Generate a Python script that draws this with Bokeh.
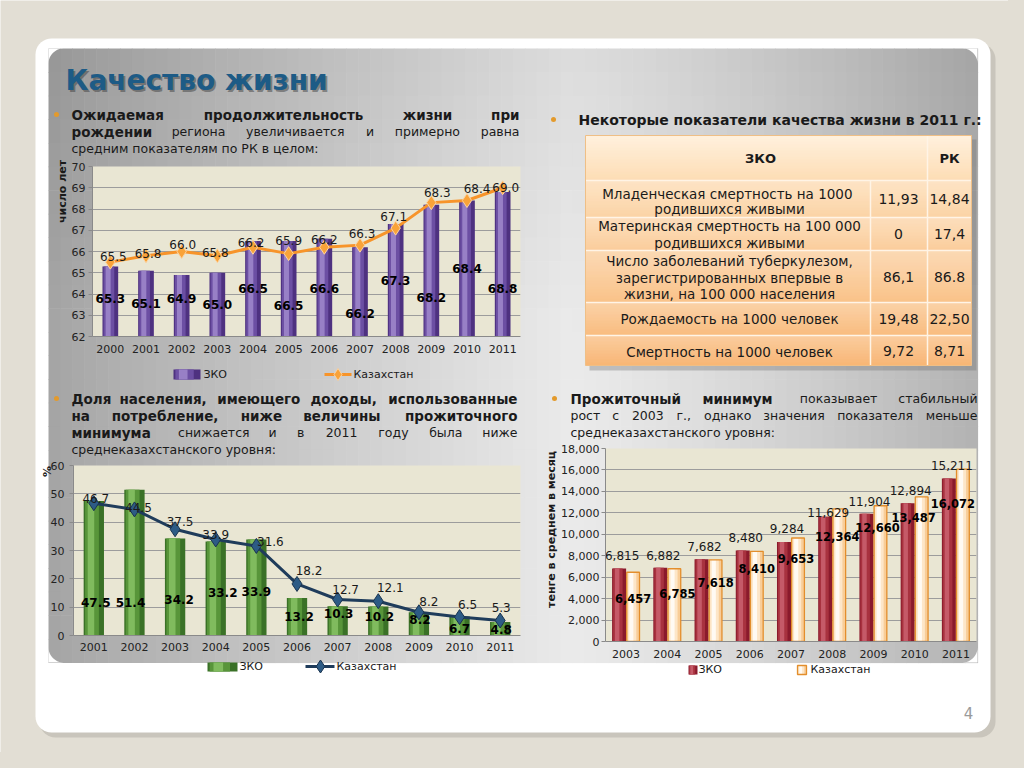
import numpy as np
from bokeh.plotting import figure
from bokeh.layouts import column
from bokeh.models import ColumnDataSource, FactorRange, Range1d, FixedTicker, NumeralTickFormatter
from bokeh.transform import dodge
from bokeh.core.properties import value
from bokeh.embed import file_html
from bokeh.resources import INLINE

# ---------------- data ----------------
life_years = ["2000", "2001", "2002", "2003", "2004", "2005", "2006", "2007", "2008", "2009", "2010", "2011"]
life_zko = [65.3, 65.1, 64.9, 65.0, 66.5, 66.5, 66.6, 66.2, 67.3, 68.2, 68.4, 68.8]
life_kz = [65.5, 65.8, 66.0, 65.8, 66.2, 65.9, 66.2, 66.3, 67.1, 68.3, 68.4, 69.0]
life_ticks = [62, 63, 64, 65, 66, 67, 68, 69, 70]

poor_years = ["2001", "2002", "2003", "2004", "2005", "2006", "2007", "2008", "2009", "2010", "2011"]
poor_zko = [47.5, 51.4, 34.2, 33.2, 33.9, 13.2, 10.3, 10.2, 8.2, 6.7, 4.8]
poor_kz = [46.7, 44.5, 37.5, 33.9, 31.6, 18.2, 12.7, 12.1, 8.2, 6.5, 5.3]
poor_ticks = [0, 10, 20, 30, 40, 50, 60]

min_years = ["2003", "2004", "2005", "2006", "2007", "2008", "2009", "2010", "2011"]
min_zko = [6815, 6882, 7682, 8480, 9284, 11629, 11904, 12894, 15211]
min_kz = [6457, 6785, 7618, 8410, 9653, 12364, 12660, 13487, 16072]
min_ticks = [0, 2000, 4000, 6000, 8000, 10000, 12000, 14000, 16000, 18000]

series_names = ["ЗКО", "Казахстан"]
table_header = ["ЗКО", "РК"]
table_rows = [
    ["Младенческая  смертность на 1000", "родившихся живыми"],
    ["Материнская смертность на 100 000", "родившихся живыми"],
    ["Число заболеваний туберкулезом,", "зарегистрированных впервые в", "жизни, на 100 000 населения"],
    ["Рождаемость на 1000 человек"],
    ["Смертность на 1000 человек"],
]
table_zko = ["11,93", "0", "86,1", "19,48", "9,72"]
table_rk = ["14,84", "17,4", "86.8", "22,50", "8,71"]

# ---------------- layout / style ----------------
FONT = "DejaVu Sans"
W, H = 1008, 752
TXT = "#1a1a1a"
BOLD_PX = 13.5
NORM_PX = 12.5

# label placement tweaks (styling only)
LIFE_ZKO_LY = [63.79, 63.55, 63.79, 63.51, 64.26, 63.46, 64.26, 63.08, 64.64, 63.84, 65.2, 64.26]
LIFE_KZ_UP = [6, 2.5, 7, 3.5, 4.5, 13, 8, 12, 12, 10, 12, 0]
LIFE_KZ_DX = [3, 2, 1, -2, -2, 0, 0, 2, -2, 6, 10, 3]
POOR_ZKO_LY = [11.75, 11.75, 12.7, 15.3, 15.5, 6.8, 7.8, 6.8, 5.6, 2.4, 2.1]
POOR_ZKO_DX = [2, -4, 4, 7, 0, 2, 1, 1, 1, 0, 1]
POOR_KZ_UP = [5, 2, 8, 5, 4.5, 13, 10, 14, 11, 13, 13]
POOR_KZ_DX = [2, 4, 5, 0, 14, 12, 8, 12, 10, 8, 1]
MIN_ZKO_UP = [13, 12, 12.6, 13, 13.5, 4.3, 12.4, 12.7, 13]
MIN_KZ_LY = [3982, 4505, 5531, 6780, 7713, 9821, 10660, 11537, 12898]
MIN_KZ_DX = [0, 3, 0, 0, -2, -2, -3, -8, -10]


def place(x, y):
    return {"position": "absolute", "left": f"{x}px", "top": f"{y}px"}


def rrect(x0, y0, x1, y1, r, n=10):
    xs, ys = [], []
    for cx, cy, a0 in [(x1 - r, y0 + r, -90), (x1 - r, y1 - r, 0), (x0 + r, y1 - r, 90), (x0 + r, y0 + r, 180)]:
        for a in np.linspace(a0, a0 + 90, n):
            xs.append(cx + r * np.cos(np.radians(a)))
            ys.append(cy + r * np.sin(np.radians(a)))
    return xs, ys


def hexc(g):
    g = int(max(0, min(255, round(g))))
    return "#%02x%02x%02x" % (g, g, g)


def lerp_col(c0, c1, t):
    a = [int(c0[i:i + 2], 16) for i in (1, 3, 5)]
    b = [int(c1[i:i + 2], 16) for i in (1, 3, 5)]
    return "#%02x%02x%02x" % tuple(int(round(a[k] + (b[k] - a[k]) * t)) for k in range(3))


def est_width(word, size, bold):
    w = 0.0
    for ch in word:
        if ch == " ":
            w += 0.348 if bold else 0.318
        elif ch in ".,":
            w += 0.38 if bold else 0.318
        elif ch in ":;":
            w += 0.40 if bold else 0.337
        elif ch.isdigit():
            w += 0.696 if bold else 0.636
        elif ch in "жшщюыфмЖШЩЮЫФМ":
            w += 0.95 if bold else 0.84
        elif ch in "гтзсэ":
            w += 0.60 if bold else 0.54
        elif ch.isupper():
            w += 0.80 if bold else 0.70
        else:
            w += 0.70 if bold else 0.62
    return w * size


# ---------------- background figure ----------------
bg = figure(width=W, height=H, x_range=Range1d(0, W), y_range=Range1d(H, 0),
            x_axis_type=None, y_axis_type=None, output_backend="svg", toolbar_location=None,
            min_border=0, outline_line_color=None, frame_align=False,
            background_fill_color="#e2ded4", border_fill_color="#e2ded4")

sx, sy = rrect(39, 43, 995, 737, 16)
bg.patch(sx, sy, fill_color="#b5b1a7", fill_alpha=0.55, line_color=None)
wx, wy = rrect(35, 38, 990, 732, 16)
bg.patch(wx, wy, fill_color="white", line_color=None)

# gray gradient slide panel
PX0, PY0, PX1, PY1 = 48, 48, 977, 662
xe = np.linspace(PX0, PX1, 79)
ye = np.linspace(PY0, PY1, 27)
L, R, T, B, C = [], [], [], [], []
for i in range(len(xe) - 1):
    t = ((xe[i] + xe[i + 1]) / 2 - PX0) / (PX1 - PX0)
    if t < 0.56:
        g0 = 164 + 70 * (t / 0.56) ** 0.9
    else:
        g0 = 234 - 56 * ((t - 0.56) / 0.44) ** 1.3
    for j in range(len(ye) - 1):
        v = ((ye[j] + ye[j + 1]) / 2 - PY0) / (PY1 - PY0)
        g = g0 - 14 * max(0.0, 1 - v / 0.45)
        L.append(xe[i]); R.append(xe[i + 1] + 0.6); T.append(ye[j]); B.append(ye[j + 1] + 0.6); C.append(hexc(g))
bg.quad(left=L, right=R, top=T, bottom=B, fill_color=C, line_color=None)
r = 15
for cx, cy, a0, px, py in [(PX0 + r, PY0 + r, 180, PX0, PY0), (PX1 - r, PY0 + r, 270, PX1, PY0),
                           (PX1 - r, PY1 - r, 0, PX1, PY1), (PX0 + r, PY1 - r, 90, PX0, PY1)]:
    ang = np.radians(np.linspace(a0, a0 + 90, 12))
    mx = [px] + list(cx + r * np.cos(ang))
    my = [py] + list(cy + r * np.sin(ang))
    bg.patch(mx, my, fill_color="white", line_color=None)

# title
bg.text(x=[67], y=[82], text=["Качество жизни"], text_font=value(FONT), text_font_style="bold",
        text_font_size="28px", text_color="#333333", text_alpha=0.45, text_baseline="middle")
bg.text(x=[65], y=[80], text=["Качество жизни"], text_font=value(FONT), text_font_style="bold",
        text_font_size="28px", text_color="#1d5b86", text_baseline="middle")

# bullets
bg.scatter(x=[56, 553, 56, 554], y=[114, 119, 398, 398], size=5, fill_color="#e39a2c", line_color=None)


def put_word(x, y, word, bold, align="left", size=None):
    bg.text(x=[x], y=[y], text=[word], text_font=value(FONT),
            text_font_style="bold" if bold else "normal",
            text_font_size=f"{size or (BOLD_PX if bold else NORM_PX)}px", text_color=TXT,
            text_align=align, text_baseline="middle")


def justify(y, left, right, words):
    widths = [est_width(w, BOLD_PX if b else NORM_PX, b) for w, b in words]
    gap = (right - left - sum(widths)) / max(1, len(words) - 1)
    x = left
    for k, ((w, b), wd) in enumerate(zip(words, widths)):
        if k == len(words) - 1 and k > 0:
            put_word(right, y, w, b, "right")
        else:
            put_word(x, y, w, b, "left")
        x += wd + gap


def split(text, bold):
    return [(w, bold) for w in text.split(" ")]


# paragraph 1
justify(114, 71, 519, split("Ожидаемая продолжительность жизни при", True))
justify(131, 71, 519, split("рождении", True) + split("региона увеличивается и примерно равна", False))
put_word(71, 148, "средним показателям по РК в целом:", False)
# paragraph 2
justify(398, 71, 517, split("Доля населения, имеющего доходы, использованные", True))
justify(415, 71, 517, split("на потребление, ниже величины прожиточного", True))
justify(432, 71, 517, split("минимума", True) + split("снижается и в 2011 году была ниже", False))
put_word(71, 449, "среднеказахстанского уровня:", False)
# paragraph 3
justify(398, 570, 977, split("Прожиточный минимум", True) + split("показывает стабильный", False))
justify(415, 570, 977, split("рост с 2003 г., однако значения показателя меньше", False))
put_word(570, 432, "среднеказахстанского уровня:", False)
# right heading
put_word(578, 119, "Некоторые показатели качества жизни в 2011 г.:", True, size=14)

# page number
bg.text(x=[968], y=[712], text=["4"], text_font=value(FONT), text_font_size="15px",
        text_color="#9a9a9a", text_align="center", text_baseline="middle")

# axis titles (rotated)
bg.text(x=[62], y=[191], text=["число лет"], angle=np.pi / 2, text_font=value(FONT), text_font_style="bold",
        text_font_size="11px", text_color=TXT, text_align="center", text_baseline="middle")
bg.text(x=[47], y=[471], text=["%"], angle=np.pi / 2, text_font=value(FONT), text_font_style="bold",
        text_font_size="11px", text_color=TXT, text_align="center", text_baseline="middle")
bg.text(x=[551], y=[529], text=["тенге в среднем в месяц"], angle=np.pi / 2, text_font=value(FONT),
        text_font_style="bold", text_font_size="11px", text_color=TXT, text_align="center", text_baseline="middle")

# ---------------- table ----------------
TX = [585, 870, 927, 971]
TY = [135, 180, 217, 250, 302, 335, 365]
bg.quad(left=[TX[0] + 4], right=[TX[3] + 5], top=[TY[0] + 4], bottom=[TY[-1] + 5],
        fill_color="#6e6e6e", fill_alpha=0.35, line_color=None)
gl, gr, gt, gb, gc = [], [], [], [], []
for yy in np.arange(TY[0], TY[1], 3):
    t = (yy - TY[0]) / (TY[1] - TY[0])
    gl.append(TX[0]); gr.append(TX[3]); gt.append(yy); gb.append(min(yy + 3.5, TY[1])); gc.append(lerp_col("#fff0dc", "#fddcb3", t))
for k in range(1, len(TY) - 1):
    for yy in np.arange(TY[k], TY[k + 1], 3):
        tg = (yy - TY[1]) / (TY[-1] - TY[1])
        tr = (yy - TY[k]) / (TY[k + 1] - TY[k])
        base = lerp_col("#fcdab0", "#f8b472", tg)
        col = lerp_col(lerp_col(base, "#ffffff", 0.25), base, tr)
        gl.append(TX[0]); gr.append(TX[3]); gt.append(yy); gb.append(min(yy + 3.5, TY[k + 1])); gc.append(col)
bg.quad(left=gl, right=gr, top=gt, bottom=gb, fill_color=gc, line_color=None)
for yy in TY[1:-1]:
    bg.line(x=[TX[0], TX[3]], y=[yy, yy], line_color="#fff4e6", line_width=1.5)
bg.line(x=[TX[1], TX[1]], y=[TY[1], TY[-1]], line_color="#fff4e6", line_width=1.5)
bg.line(x=[TX[2], TX[2]], y=[TY[0], TY[-1]], line_color="#fff4e6", line_width=1.5)
bg.quad(left=[TX[0]], right=[TX[3]], top=[TY[0]], bottom=[TY[-1]], fill_alpha=0, line_color="#efbf86", line_width=1)

bg.text(x=[760, 949], y=[158, 158], text=table_header, text_font=value(FONT), text_font_style="bold",
        text_font_size="13px", text_color=TXT, text_align="center", text_baseline="middle")
row_lines_y = [[193, 208], [225, 242], [260, 277, 293], [318], [351]]
for k, lines in enumerate(table_rows):
    for ln, yy in zip(lines, row_lines_y[k]):
        bg.text(x=[729], y=[yy], text=[ln], text_font=value(FONT), text_font_size="13.5px",
                text_color=TXT, text_align="center", text_baseline="middle")
    cy = (TY[k + 1] + TY[k + 2]) / 2
    bg.text(x=[898, 949], y=[cy, cy], text=[table_zko[k], table_rk[k]], text_font=value(FONT),
            text_font_size="14px", text_color=TXT, text_align="center", text_baseline="middle")


# ---------------- charts ----------------
def style_chart(p, ticks, xstand, ystand):
    p.background_fill_color = "#e9e6d3"
    p.border_fill_color = None
    p.border_fill_alpha = 0
    p.outline_line_color = None
    p.xgrid.grid_line_color = None
    p.ygrid.grid_line_color = "#9c9c9c"
    p.yaxis.ticker = FixedTicker(ticks=ticks)
    p.axis.minor_tick_line_color = None
    p.xaxis.major_tick_line_color = None
    p.xaxis.major_tick_out = 0
    p.xaxis.major_label_standoff = xstand
    p.yaxis.major_tick_in = 0
    p.yaxis.major_tick_out = 4
    p.yaxis.major_label_standoff = ystand
    p.axis.axis_line_color = "#8a8a8a"
    p.yaxis.major_tick_line_color = "#8a8a8a"
    p.axis.major_label_text_font = FONT
    p.axis.major_label_text_font_size = "11px"
    p.axis.major_label_text_color = "#222222"


def grad_bars(p, xfield, top, bottom, width, cols, src, shift=0.0):
    widths = [width, width * 0.68, width * 0.32]
    offs = [0.0, -width * 0.09, -width * 0.14]
    for w_, o_, c_ in zip(widths, offs, cols):
        p.vbar(x=dodge(xfield, shift + o_, range=p.x_range), top=top, bottom=bottom, width=w_,
               fill_color=c_, line_color=None, source=src)


COMMON = dict(output_backend="svg", toolbar_location=None, frame_align=False)

# chart 1: life expectancy
s1 = ColumnDataSource(dict(
    year=life_years, zko=life_zko, kz=life_kz,
    zko_txt=[f"{v:.1f}" for v in life_zko], kz_txt=[f"{v:.1f}" for v in life_kz],
    zko_ly=LIFE_ZKO_LY, kz_ly=[v + u / 21.25 for v, u in zip(life_kz, LIFE_KZ_UP)], kz_dx=LIFE_KZ_DX))
p1 = figure(x_range=FactorRange(factors=life_years), y_range=Range1d(life_ticks[0], life_ticks[-1]),
            width=475, height=202, min_border_left=42, min_border_right=5, min_border_top=8,
            min_border_bottom=24, styles=place(50, 158), **COMMON)
style_chart(p1, life_ticks, 8, 3)
grad_bars(p1, "year", "zko", life_ticks[0], 0.44, ["#4e3180", "#6c4fa3", "#9880c6"], s1)
p1.line(x="year", y="kz", source=s1, line_color="#f7942a", line_width=3)
p1.scatter(x="year", y="kz", source=s1, marker="diamond", size=14, fill_color="#f9a339",
           line_color="#fcd3a0", line_width=1)
p1.text(x="year", y="zko_ly", text="zko_txt", source=s1, text_font=value(FONT), text_font_style="bold",
        text_font_size="12px", text_color="black", text_align="center", text_baseline="middle")
p1.text(x="year", y="kz_ly", text="kz_txt", x_offset="kz_dx", source=s1, text_font=value(FONT),
        text_font_size="12px", text_color=TXT, text_align="center", text_baseline="middle")

# chart 2: poverty share
s2 = ColumnDataSource(dict(
    year=poor_years, zko=poor_zko, kz=poor_kz,
    zko_txt=[f"{v:.1f}" for v in poor_zko], kz_txt=[f"{v:.1f}" for v in poor_kz],
    zko_ly=POOR_ZKO_LY, zko_dx=POOR_ZKO_DX,
    kz_ly=[v + u / (170 / 60) for v, u in zip(poor_kz, POOR_KZ_UP)], kz_dx=POOR_KZ_DX))
p2 = figure(x_range=FactorRange(factors=poor_years), y_range=Range1d(poor_ticks[0], poor_ticks[-1]),
            width=486, height=202, min_border_left=33, min_border_right=6, min_border_top=8,
            min_border_bottom=24, styles=place(40, 457), **COMMON)
style_chart(p2, poor_ticks, 7, 5)
grad_bars(p2, "year", "zko", 0, 0.5, ["#3a7127", "#58953a", "#80bb5e"], s2)
p2.line(x="year", y="kz", source=s2, line_color="#1f3c5b", line_width=3)
p2.scatter(x="year", y="kz", source=s2, marker="diamond", size=15, fill_color="#2d5b85",
           line_color="#1a3450", line_width=1)
p2.text(x="year", y="zko_ly", text="zko_txt", x_offset="zko_dx", source=s2, text_font=value(FONT),
        text_font_style="bold", text_font_size="12px", text_color="black", text_align="center",
        text_baseline="middle")
p2.text(x="year", y="kz_ly", text="kz_txt", x_offset="kz_dx", source=s2, text_font=value(FONT),
        text_font_size="12px", text_color=TXT, text_align="center", text_baseline="middle")

# chart 3: subsistence minimum
ppu3 = 193 / 18000
s3 = ColumnDataSource(dict(
    year=min_years, zko=min_zko, kz=min_kz,
    zko_txt=[f"{v:,}" for v in min_zko], kz_txt=[f"{v:,}" for v in min_kz],
    zko_ly=[v + u / ppu3 for v, u in zip(min_zko, MIN_ZKO_UP)], kz_ly=MIN_KZ_LY, kz_dx=MIN_KZ_DX))
p3 = figure(x_range=FactorRange(factors=min_years), y_range=Range1d(min_ticks[0], min_ticks[-1]),
            width=432, height=225, min_border_left=60, min_border_right=1, min_border_top=8,
            min_border_bottom=24, styles=place(545, 440), **COMMON)
style_chart(p3, min_ticks, 8, 2)
p3.yaxis.formatter = NumeralTickFormatter(format="0,0")
grad_bars(p3, "year", "zko", 0, 0.34, ["#8a1a2c", "#a8323f", "#c55a68"], s3, shift=-0.17)
grad_bars(p3, "year", "kz", 0, 0.31, ["#f8cd98", "#fde6c8", "#fffaf3"], s3, shift=0.17)
p3.vbar(x=dodge("year", 0.17, range=p3.x_range), top="kz", bottom=0, width=0.31, fill_alpha=0,
        line_color="#e38e2c", line_width=1.3, source=s3)
p3.text(x=dodge("year", -0.17, range=p3.x_range), y="zko_ly", text="zko_txt", x_offset=3, source=s3,
        text_font=value(FONT), text_font_size="12px", text_color=TXT, text_align="center",
        text_baseline="middle")
p3.text(x=dodge("year", 0.17, range=p3.x_range), y="kz_ly", text="kz_txt", x_offset="kz_dx", source=s3,
        text_font=value(FONT), text_font_style="bold", text_font_size="11.5px", text_color="black",
        text_align="center", text_baseline="middle")


# ---------------- legends (drawn on background) ----------------
def legend_text(x, y, t):
    bg.text(x=[x], y=[y], text=[t], text_font=value(FONT), text_font_size="11px", text_color=TXT,
            text_align="left", text_baseline="middle")


def legend_box(x0, x1, y0, y1, cols):
    w = x1 - x0
    for f_, o_, c_ in zip([1.0, 0.68, 0.32], [0.0, -0.09, -0.14], cols):
        cx = (x0 + x1) / 2 + o_ * w
        bg.quad(left=[cx - f_ * w / 2], right=[cx + f_ * w / 2], top=[y0], bottom=[y1], fill_color=c_, line_color=None)


legend_box(173, 200, 369, 379, ["#4e3180", "#6c4fa3", "#9880c6"])
legend_text(203, 374, series_names[0])
bg.line(x=[324, 351], y=[374, 374], line_color="#f7942a", line_width=3)
bg.scatter(x=[337.5], y=[374], marker="diamond", size=12, fill_color="#f9a339", line_color="#fcd3a0")
legend_text(353, 374, series_names[1])

legend_box(207, 237, 662, 671, ["#3a7127", "#58953a", "#80bb5e"])
legend_text(239, 666, series_names[0])
bg.line(x=[305, 334], y=[666, 666], line_color="#1f3c5b", line_width=3)
bg.scatter(x=[320], y=[666], marker="diamond", size=13, fill_color="#2d5b85", line_color="#1a3450")
legend_text(336, 666, series_names[1])

legend_box(688, 697, 665, 674, ["#8a1a2c", "#a8323f", "#c55a68"])
legend_text(698, 669, series_names[0])
legend_box(797, 806, 665, 674, ["#f8cd98", "#fde6c8", "#fffaf3"])
bg.quad(left=[797], right=[806], top=[665], bottom=[674], fill_alpha=0, line_color="#e38e2c", line_width=1.3)
legend_text(810, 669, series_names[1])

root = column(bg, p1, p2, p3, styles={"position": "relative", "box-shadow": "0 0 0 24px #e2ded4"})
open("out.html", "w").write(file_html(root, INLINE))
